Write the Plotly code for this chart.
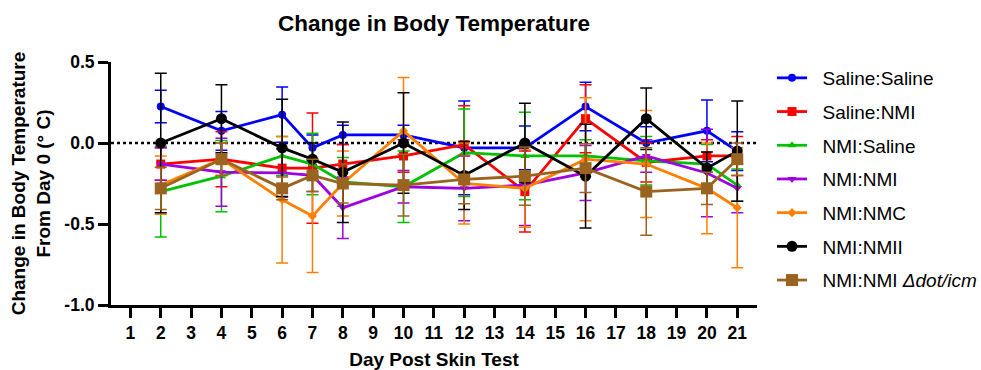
import plotly.graph_objects as go

days = [2, 4, 6, 7, 8, 10, 12, 14, 16, 18, 20, 21]

saline_saline = [0.225, 0.075, 0.175, -0.03, 0.05, 0.05, -0.03, -0.03, 0.225, 0.0, 0.075, -0.05]
saline_saline_err = [0.10, 0.12, 0.17, 0.08, 0.06, 0.06, 0.29, 0.135, 0.15, 0.10, 0.19, 0.12]

saline_nmi = [-0.13, -0.10, -0.155, -0.155, -0.13, -0.08, -0.01, -0.30, 0.15, -0.12, -0.08, -0.08]
saline_nmi_err = [0.10, 0.17, 0.12, 0.34, 0.12, 0.10, 0.24, 0.25, 0.21, 0.12, 0.10, 0.12]

nmi_saline = [-0.30, -0.205, -0.08, -0.13, -0.24, -0.27, -0.06, -0.08, -0.08, -0.11, -0.13, -0.26]
nmi_saline_err = [0.28, 0.22, 0.12, 0.19, 0.15, 0.22, 0.27, 0.27, 0.10, 0.15, 0.12, 0.10]

nmi_nmi = [-0.13, -0.18, -0.185, -0.20, -0.40, -0.27, -0.28, -0.26, -0.185, -0.08, -0.185, -0.28]
nmi_nmi_err = [0.10, 0.21, 0.15, 0.10, 0.19, 0.10, 0.20, 0.25, 0.17, 0.10, 0.27, 0.15]

nmi_nmc = [-0.26, -0.10, -0.35, -0.45, -0.25, 0.075, -0.25, -0.28, -0.10, -0.13, -0.28, -0.40]
nmi_nmc_err = [0.18, 0.10, 0.39, 0.35, 0.20, 0.33, 0.25, 0.24, 0.38, 0.33, 0.28, 0.37]

nmi_nmii = [0.0, 0.15, -0.03, -0.10, -0.18, 0.0, -0.20, 0.0, -0.205, 0.15, -0.155, -0.05]
nmi_nmii_err = [0.43, 0.21, 0.30, 0.10, 0.31, 0.31, 0.21, 0.245, 0.32, 0.19, 0.10, 0.31]

nmi_nmi_dot = [-0.28, -0.10, -0.28, -0.20, -0.25, -0.26, -0.225, -0.205, -0.155, -0.30, -0.28, -0.10]
nmi_nmi_dot_err = [0.13, 0.10, 0.07, 0.10, 0.12, 0.19, 0.15, 0.18, 0.15, 0.27, 0.10, 0.10]

x_ticks = list(range(1, 22))
y_ticks = [0.5, 0.0, -0.5, -1.0]
y_tick_labels = ["0.5", "0.0", "-0.5", "-1.0"]

series = [
    ("Saline:Saline", saline_saline, saline_saline_err, "#0000FF", "circle", 8),
    ("Saline:NMI", saline_nmi, saline_nmi_err, "#FF0000", "square", 9),
    ("NMI:Saline", nmi_saline, nmi_saline_err, "#00C000", "triangle-up", 8),
    ("NMI:NMI", nmi_nmi, nmi_nmi_err, "#A000E0", "triangle-down", 8),
    ("NMI:NMC", nmi_nmc, nmi_nmc_err, "#FF8000", "diamond", 7),
    ("NMI:NMII", nmi_nmii, nmi_nmii_err, "#000000", "circle", 11),
    ("NMI:NMI <i>Δdot/icm</i>", nmi_nmi_dot, nmi_nmi_dot_err, "#9A6420", "square", 12),
]

fig = go.Figure()
for i, (name, vals, errs, color, symbol, size) in enumerate(series):
    fig.add_trace(go.Scatter(
        x=days, y=vals, name="\u00a0\u00a0" + name, mode="lines+markers",
        legendgroup=f"g{i}",
        line=dict(color=color, width=2.8),
        marker=dict(color=color, symbol=symbol, size=size, line=dict(width=0)),
        error_y=dict(type="data", array=errs, visible=True, color=color,
                     thickness=1.5, width=6),
    ))

fig.add_shape(type="line", xref="paper", yref="y", x0=0, x1=1, y0=0, y1=0,
              line=dict(color="black", width=2.5, dash="dot"), layer="below")

font_family = "Liberation Sans, Arial, sans-serif"

fig.update_layout(
    width=981, height=370,
    margin=dict(l=111, r=224, t=62, b=65),
    paper_bgcolor="white", plot_bgcolor="white",
    font=dict(family=font_family, color="black"),
    title=dict(text="<b>Change in Body Temperature</b>", x=(111 + 757) / 2 / 981,
               xanchor="center", y=1 - 23 / 370, yanchor="middle",
               font=dict(size=22.5, family=font_family, color="black")),
    showlegend=True,
    legend=dict(x=772 / 981, xanchor="left", y=1 - 59 / 370, yanchor="top",
                xref="container", yref="container", maxheight=360,
                font=dict(size=19, family=font_family, color="black"),
                tracegroupgap=6, itemwidth=30, bgcolor="rgba(0,0,0,0)"),
    xaxis=dict(range=[0.36, 21.65], tickvals=x_ticks, ticktext=[str(t) for t in x_ticks],
               automargin=False,
               showgrid=False, zeroline=False, showline=True, linecolor="black",
               linewidth=3, ticks="outside", ticklen=10, tickwidth=3, tickcolor="black",
               tickfont=dict(size=17.5, family=font_family, color="black", weight="bold"),
               title=dict(text="<b>Day Post Skin Test</b>", standoff=16,
                          font=dict(size=19, family=font_family, color="black"))),
    yaxis=dict(range=[-1.0, 0.5], tickvals=y_ticks, ticktext=y_tick_labels,
               automargin=False,
               showgrid=False, zeroline=False, showline=True, linecolor="black",
               linewidth=3, ticks="outside", ticklen=10, tickwidth=3, tickcolor="black",
               tickfont=dict(size=17.5, family=font_family, color="black", weight="bold"),
               title=dict(text="<b>Change in Body Temperature<br>From Day 0 (° C)</b>",
                          standoff=9,
                          font=dict(size=19, family=font_family, color="black"))),
)

fig.write_html("out.html")
